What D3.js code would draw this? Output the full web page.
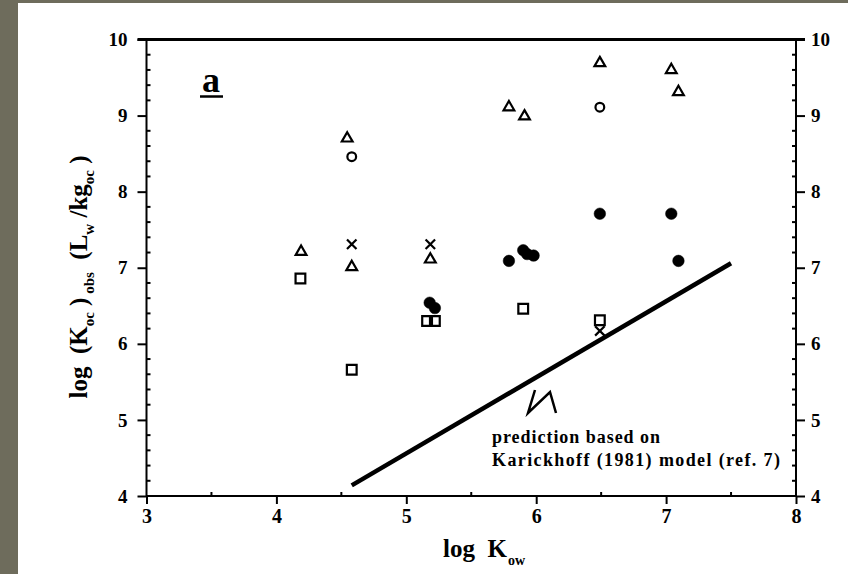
<!DOCTYPE html>
<html>
<head>
<meta charset="utf-8">
<script src="https://cdn.jsdelivr.net/npm/d3@7"></script>
<style>
  body { margin: 0; background: #fff; }
  svg { display: block; }
  text { font-family: "Liberation Serif", "Times New Roman", serif; fill: #000; }
</style>
</head>
<body>
<svg id="chart" width="848" height="574"></svg>
<script>
const openTriangles = [[4.19, 7.21], [4.545, 8.70], [4.58, 7.01], [5.185, 7.11], [5.79, 9.11], [5.91, 8.99], [6.49, 9.69], [7.04, 9.60], [7.095, 9.31]];
const openCircles = [[4.58, 8.46], [6.49, 9.11]];
const crosses = [[4.58, 7.31], [5.185, 7.31], [6.49, 6.17]];
const openSquares = [[4.185, 6.86], [4.58, 5.66], [5.16, 6.30], [5.22, 6.30], [5.90, 6.46], [6.49, 6.31]];
const filledCircles = [[5.18, 6.54], [5.22, 6.47], [5.79, 7.09], [5.90, 7.23], [5.93, 7.18], [5.98, 7.16], [6.49, 7.71], [7.04, 7.71], [7.095, 7.09]];
const prediction = [[4.58, 4.14], [7.5, 7.06]];

const xTicks = [3, 4, 5, 6, 7, 8];
const yTicks = [4, 5, 6, 7, 8, 9, 10];

const svg = d3.select('#chart');
const plotL = 146.5, plotR = 796, plotT = 39.5, plotB = 496;

// scanned page border
svg.append('rect').attr('width', 848).attr('height', 574).attr('fill', '#fff');
svg.append('rect').attr('x', 0).attr('y', 0).attr('width', 18).attr('height', 574).attr('fill', '#6e6c5c');
svg.append('rect').attr('x', 0).attr('y', 0).attr('width', 848).attr('height', 3).attr('fill', '#6e6c5c');

const x = d3.scaleLinear().domain([3, 8]).range([plotL, plotR]);
const y = d3.scaleLinear().domain([4, 10]).range([plotB, plotT]);

const minorX = d3.range(3, 8.01, 0.5).filter(v => !xTicks.includes(v));
const minorY = d3.range(4, 10.01, 0.2).map(v => +v.toFixed(1)).filter(v => !yTicks.includes(v));

// axes
const xAxis = d3.axisBottom(x).tickValues(xTicks).tickSize(8).tickPadding(5).tickFormat(d3.format('d'));
const yAxisL = d3.axisLeft(y).tickValues(yTicks).tickSize(9).tickPadding(10).tickFormat(d3.format('d'));
const yAxisR = d3.axisRight(y).tickValues(yTicks).tickSize(9).tickPadding(6).tickFormat(d3.format('d'));

const gx = svg.append('g').attr('transform', `translate(0,${plotB})`).call(xAxis);
const gl = svg.append('g').attr('transform', `translate(${plotL},0)`).call(yAxisL);
const gr = svg.append('g').attr('transform', `translate(${plotR},0)`).call(yAxisR);

[gx, gl, gr].forEach(g => {
  g.select('.domain').remove();
  g.selectAll('line').attr('stroke', '#000').attr('stroke-width', 2);
  g.selectAll('text').attr('font-weight', 'bold').attr('font-size', 19).attr('fill', '#000');
});
gx.selectAll('text').attr('font-size', 20);

// minor ticks pointing inward
svg.append('g').selectAll('line').data(minorX).join('line')
  .attr('x1', d => x(d)).attr('x2', d => x(d))
  .attr('y1', plotB).attr('y2', plotB - 4)
  .attr('stroke', '#000').attr('stroke-width', 2);
svg.append('g').selectAll('line').data(minorY).join('line')
  .attr('x1', plotL).attr('x2', plotL + 4)
  .attr('y1', d => y(d)).attr('y2', d => y(d))
  .attr('stroke', '#000').attr('stroke-width', 2);
svg.append('g').selectAll('line').data(minorY).join('line')
  .attr('x1', plotR).attr('x2', plotR - 4)
  .attr('y1', d => y(d)).attr('y2', d => y(d))
  .attr('stroke', '#000').attr('stroke-width', 2);

// frame
svg.append('rect')
  .attr('x', plotL).attr('y', plotT)
  .attr('width', plotR - plotL).attr('height', plotB - plotT)
  .attr('fill', 'none').attr('stroke', '#000').attr('stroke-width', 2);
svg.append('line')
  .attr('x1', plotL - 9).attr('x2', plotR + 9)
  .attr('y1', plotT).attr('y2', plotT)
  .attr('stroke', '#000').attr('stroke-width', 3);

// prediction line
svg.append('path')
  .datum(prediction)
  .attr('d', d3.line().x(d => x(d[0])).y(d => y(d[1])))
  .attr('fill', 'none').attr('stroke', '#000').attr('stroke-width', 4.5);

// markers
const symbolX = {
  draw(ctx, size) {
    const r = Math.sqrt(size) / 2;
    ctx.moveTo(-r, -r); ctx.lineTo(r, r);
    ctx.moveTo(r, -r); ctx.lineTo(-r, r);
  }
};

function drawMarks(data, type, size, filled) {
  svg.append('g').selectAll('path').data(data).join('path')
    .attr('transform', d => `translate(${x(d[0])},${y(d[1])})`)
    .attr('d', d3.symbol().type(type).size(size))
    .attr('fill', filled ? '#000' : 'none')
    .attr('stroke', '#000')
    .attr('stroke-width', filled ? 0.5 : 2.2);
}

drawMarks(openTriangles, d3.symbolTriangle, 50, false);
drawMarks(openCircles, d3.symbolCircle, 60, false);
drawMarks(crosses, symbolX, 90, false);
drawMarks(openSquares, d3.symbolSquare, 95, false);
drawMarks(filledCircles, d3.symbolCircle, 105, true);

// panel label
svg.append('text').attr('x', 202).attr('y', 92)
  .attr('font-size', 36).attr('font-weight', 'bold').text('a');
svg.append('line').attr('x1', 200).attr('x2', 223).attr('y1', 96.5).attr('y2', 96.5)
  .attr('stroke', '#000').attr('stroke-width', 2.5);

// annotation
const squiggle = [[535, 390], [528, 413], [550, 392], [556, 413]];
svg.append('path').datum(squiggle)
  .attr('d', d3.line())
  .attr('fill', 'none').attr('stroke', '#000').attr('stroke-width', 2.5)
  .attr('stroke-linejoin', 'miter');

svg.append('text').attr('x', 492).attr('y', 443)
  .attr('font-size', 18).attr('font-weight', 'bold')
  .attr('textLength', 168).attr('lengthAdjust', 'spacing')
  .text('prediction based on');
svg.append('text').attr('x', 492).attr('y', 466)
  .attr('font-size', 18).attr('font-weight', 'bold')
  .attr('textLength', 288).attr('lengthAdjust', 'spacing')
  .text('Karickhoff (1981) model (ref. 7)');

// x title
const xt = svg.append('text').attr('x', 443).attr('y', 557)
  .attr('font-size', 25).attr('font-weight', 'bold').attr('xml:space', 'preserve');
xt.append('tspan').text('log  K');
xt.append('tspan').attr('font-size', 14).attr('dy', 8).attr('dx', 1).text('ow');

// y title
const yt = svg.append('text')
  .attr('transform', 'translate(87,277) rotate(-90)')
  .attr('text-anchor', 'middle')
  .attr('xml:space', 'preserve')
  .attr('font-size', 25).attr('font-weight', 'bold');
const parts = [
  ['log  (K', 0], ['oc', 1], [' )', 0], [' obs', 1], ['  (L', 0], ['w', 1], [' /kg', 0], ['oc', 1], [' )', 0]
];
let shifted = false;
parts.forEach(([t, sub]) => {
  const ts = yt.append('tspan').text(t);
  if (sub) {
    ts.attr('font-size', 15);
    if (!shifted) { ts.attr('dy', 7); shifted = true; }
  } else {
    ts.attr('font-size', 25);
    if (shifted) { ts.attr('dy', -7); shifted = false; }
  }
});
</script>
</body>
</html>
